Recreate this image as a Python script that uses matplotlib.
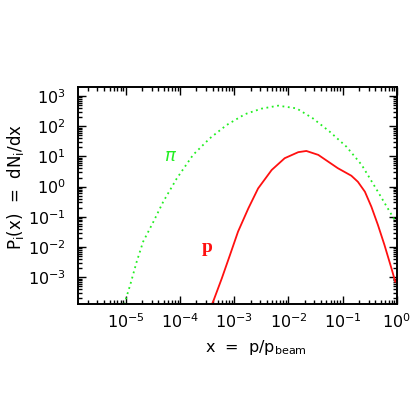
import numpy as np
import matplotlib
matplotlib.use("Agg")
import matplotlib.pyplot as plt
from matplotlib.ticker import LogLocator, NullFormatter

# pion spectrum (log10 values)
pi_logx = [-5.03, -4.92, -4.80, -4.68, -4.49, -4.31, -4.06, -3.76, -3.45,
           -3.14, -2.80, -2.50, -2.19, -1.85, -1.55, -1.24, -0.93, -0.65,
           -0.35, -0.04]
pi_logy = [-3.90, -3.26, -2.49, -1.82, -1.16, -0.50, 0.27, 1.05, 1.60,
           2.04, 2.40, 2.58, 2.68, 2.59, 2.26, 1.82, 1.32, 0.72,
           -0.17, -1.11]

# proton spectrum
p_logx = [-3.42, -3.39, -3.23, -3.08, -2.93, -2.74, -2.56, -2.31, -2.07,
          -1.82, -1.67, -1.45, -1.27, -1.09, -0.84, -0.72, -0.59, -0.47,
          -0.35, -0.23, -0.10, -0.03]
p_logy = [-3.92, -3.81, -3.04, -2.27, -1.49, -0.72, -0.06, 0.55, 0.94,
          1.14, 1.18, 1.05, 0.83, 0.61, 0.36, 0.16, -0.17, -0.67,
          -1.27, -1.93, -2.71, -3.15]

# labelled decades
x_decades = [-5, -4, -3, -2, -1, 0]
y_decades = [-3, -2, -1, 0, 1, 2, 3]

pi_x = 10.0**np.array(pi_logx)
pi_y = 10.0**np.array(pi_logy)
p_x = 10.0**np.array(p_logx)
p_y = 10.0**np.array(p_logy)

plt.rcParams['font.family'] = ['DejaVu Sans']
plt.rcParams['mathtext.fontset'] = 'dejavusans'

fig = plt.figure(figsize=(4.2, 4.2), dpi=100)
ax = fig.add_axes([0.186, 0.276, 0.759, 0.517])

ax.plot(pi_x, pi_y, color='#22ee22', linestyle=(0, (1, 2)), linewidth=1.3)
ax.plot(p_x, p_y, color='#ff1010', linewidth=1.3)

ax.set_xscale('log')
ax.set_yscale('log')

ax.set_xticks([10.0**d for d in x_decades],
              [r"$10^{%d}$" % d for d in x_decades])
ax.set_yticks([10.0**d for d in y_decades],
              [r"$10^{%d}$" % d for d in y_decades])
ax.xaxis.set_minor_locator(LogLocator(base=10, subs=np.arange(2, 10), numticks=20))
ax.yaxis.set_minor_locator(LogLocator(base=10, subs=np.arange(2, 10), numticks=20))
ax.xaxis.set_minor_formatter(NullFormatter())
ax.yaxis.set_minor_formatter(NullFormatter())

ax.set_xlim(10**-5.88, 1.0)
ax.set_ylim(10**-3.89, 10**3.3)

ax.tick_params(which='both', direction='in', top=True, right=True, width=1.0)
ax.tick_params(which='major', length=6)
ax.tick_params(which='minor', length=3)
ax.tick_params(axis='x', which='major', pad=6, labelsize=11.5)
ax.tick_params(axis='y', which='major', pad=9, labelsize=11.5)
for s in ax.spines.values():
    s.set_linewidth(1.4)

ax.set_xlabel(r"x  =  p/p$_{\rm beam}$", fontsize=11.5)
ax.set_ylabel(r"P$_{\rm i}$(x)  =  dN$_{\rm i}$/dx", fontsize=12)
ax.xaxis.set_label_coords(0.558, -0.155)
ax.yaxis.set_label_coords(-0.165, 0.54)

ax.text(6.6e-5, 10.0, r"$\pi$", color='#22ee22', fontsize=13,
        ha='center', va='center', fontweight='bold')
ax.text(3.1e-4, 0.01, "p", color='#ff1010', fontsize=14,
        ha='center', va='center', family='Liberation Serif', fontweight='bold')

fig.savefig("out.png", dpi=100)
